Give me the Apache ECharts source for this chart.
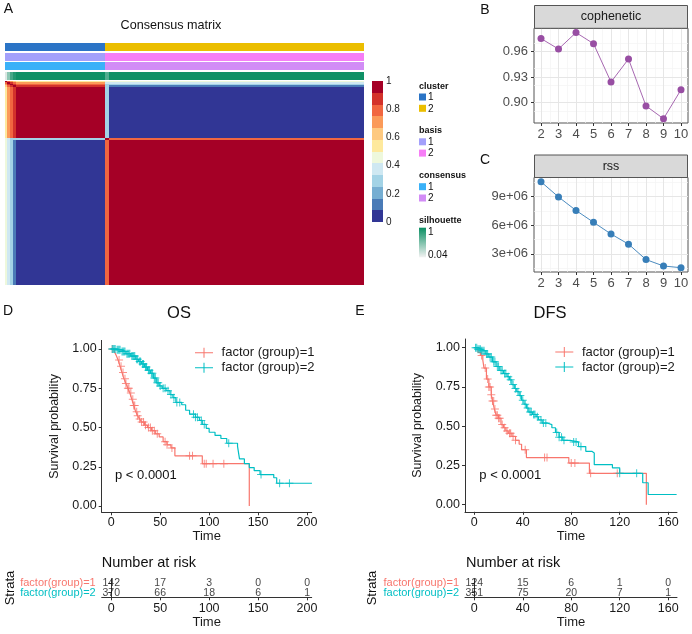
<!DOCTYPE html>
<html><head><meta charset="utf-8">
<script src="https://cdn.jsdelivr.net/npm/echarts@6/dist/echarts.min.js"></script>
<style>html,body{margin:0;padding:0;background:#fff}#c{width:692px;height:634px}</style>
</head><body><div id="c"></div>
<script>
// ---------------- DATA ----------------
// Panel A: consensus matrix, samples ordered by group
const groupNames = ['G1','G2','G3','G4','core1','edge2','core2'];
const groupSizes = [3,4,4,4,127,7,363];
const groupCluster = [1,1,1,1,1,2,2];
const groupBasis = [1,1,1,1,1,2,2];
const groupConsensus = [1,1,1,1,1,2,2];
const groupSilhouette = [0.12,0.45,0.75,0.9,0.98,0.7,0.98];
const consensusBlocks = [
  [1.00,0.80,0.70,0.65,0.55,0.45,0.45],
  [0.80,1.00,0.85,0.80,0.70,0.36,0.35],
  [0.70,0.85,1.00,0.90,0.82,0.28,0.25],
  [0.65,0.80,0.90,1.00,0.88,0.28,0.12],
  [0.55,0.70,0.82,0.88,1.00,0.28,0.00],
  [0.45,0.36,0.28,0.28,0.28,1.00,0.75],
  [0.45,0.35,0.25,0.12,0.00,0.75,1.00]
];
const trackNames = ['cluster','basis','consensus','silhouette'];
const colorbarTicks = [0,0.2,0.4,0.6,0.8,1];
// Panel B / C
const rankK = [2,3,4,5,6,7,8,9,10];
const copheneticValues = [0.975,0.9627,0.982,0.969,0.924,0.951,0.896,0.881,0.915];
const rssValues = [10.55e6,8.96e6,7.55e6,6.31e6,5.08e6,4.02e6,2.40e6,1.73e6,1.55e6];
const copheneticTicks = [0.90,0.93,0.96];
const rssTicks = [3e6,6e6,9e6];
// Panel D: OS
const osTime1 = [0,3,5,7,9,11,13,15,17,19,21,23,25,27,29,31,34,37,41,45,49,53,57,61,65,93,141];
const osSurv1 = [1,0.985,0.96,0.93,0.89,0.85,0.81,0.78,0.75,0.72,0.68,0.64,0.60,0.575,0.555,0.535,0.515,0.50,0.48,0.46,0.44,0.41,0.39,0.37,0.32,0.27,0.0];
const osCensor1 = [1,8,10,12,14,15,17,18,20,22,23,24,26,27,29,31,33,35,38,40,42,44,47,55,57,62,80,83,95,97,104,115];
const osTime2 = [0,5,10,15,20,25,28,31,34,37,40,43,46,49,52,56,60,63,66,72,76,80,86,90,93,97,100,106,112,118,129,131,136,141,146,152,166,169,205];
const osSurv2 = [1,0.995,0.985,0.97,0.955,0.935,0.92,0.905,0.885,0.865,0.845,0.815,0.785,0.765,0.75,0.735,0.71,0.69,0.66,0.645,0.61,0.585,0.565,0.545,0.52,0.495,0.47,0.45,0.43,0.40,0.38,0.30,0.27,0.245,0.225,0.20,0.18,0.145,0.145];
const osCensor2 = [1,2,3,4,6,7,8,9,11,12,13,14,16,17,18,19,21,22,23,24,26,27,29,30,32,33,35,36,38,39,41,42,44,45,47,48,50,53,55,58,61,64,67,70,84,86,88,92,95,120,153,172,182];
const osRiskTimes = [0,50,100,150,200];
const osRisk1 = [142,17,3,0,0];
const osRisk2 = [370,66,18,6,1];
// Panel E: DFS
const dfsTime1 = [0,3,5,7,8,10,12,14,15,16.5,18,20,22,24,26,28,31,34,37,39,43,78,95,142];
const dfsSurv1 = [1,0.97,0.95,0.92,0.87,0.80,0.75,0.70,0.66,0.61,0.57,0.55,0.51,0.49,0.47,0.455,0.435,0.41,0.385,0.35,0.30,0.265,0.20,0.0];
const dfsCensor1 = [6,9,11,12,13,14,15,16,17,18,19,20,21,23,25,27,29,30,32,34,42,58,60,80,83,96,118];
const dfsTime2 = [0,3,6,9,12,15,18,21,24,27,29,31,33,35,37,39,41,43,45,48,51,53,56,60,64,67,70,73,79,86,92,97,99,114,120,139,143.5,167];
const dfsSurv2 = [1,0.99,0.98,0.96,0.94,0.91,0.88,0.855,0.835,0.815,0.795,0.765,0.74,0.72,0.695,0.665,0.64,0.615,0.59,0.575,0.56,0.54,0.52,0.51,0.49,0.46,0.43,0.41,0.40,0.37,0.34,0.33,0.255,0.235,0.20,0.14,0.065,0.065];
const dfsCensor2 = [1,2,3,4,5,6,7,8,10,11,13,14,16,17,19,20,22,23,25,26,28,30,32,34,36,38,40,42,44,46,47,49,50,52,55,57,59,68,70,72,74,82,84,88,120,134];
const dfsRiskTimes = [0,40,80,120,160];
const dfsRisk1 = [124,15,6,1,0];
const dfsRisk2 = [351,75,20,7,1];
const survTicks = [0,0.25,0.5,0.75,1];
const legendNames = ['factor (group)=1','factor (group)=2'];
const strataNames = ['factor(group)=1','factor(group)=2'];

// ---------------- STYLE ----------------
const FONT = '"Liberation Sans", Arial, sans-serif';
const heatPalette = ['#313695','#4a7bb7','#76aed2','#a3d3e6','#cfe8f2','#eef8dc','#fee99d','#fec980','#fb9a59','#f16640','#d3322b','#a50026'];
const clusterColors = {1:'#2b74c6',2:'#ebbe00'};
const basisColors = {1:'#a3a0fb',2:'#f67ef6'};
const consensusColors = {1:'#3ab1f8',2:'#d28cf6'};
const RED = '#f8766d', TEAL = '#00bfc4';
const PURPLE = '#984ea3', BLUE = '#377eb8';

function heatColor(v){ return heatPalette[Math.min(heatPalette.length-1, Math.floor(v*heatPalette.length))]; }
function silColor(v){
  const t = Math.max(0, Math.min(1, (v-0.04)/0.96));
  const a=[240,240,240], b=[10,143,99];
  return 'rgb('+a.map((c,i)=>Math.round(c+(b[i]-c)*t)).join(',')+')';
}
function survAt(times, surv, t){ let s = surv[0]; for (let i=0;i<times.length;i++){ if (times[i] <= t) s = surv[i]; } return s; }

// ---------------- BUILD ----------------
const offsets = [0];
groupSizes.forEach(s => offsets.push(offsets[offsets.length-1] + s));
const nSamples = offsets[offsets.length-1];
const heatData = [];
for (let i=0;i<groupSizes.length;i++) for (let j=0;j<groupSizes.length;j++)
  heatData.push([offsets[j], offsets[j+1], offsets[i], offsets[i+1], consensusBlocks[i][j]]);
const trackData = [];
for (let g=0; g<groupSizes.length; g++){
  trackData.push([offsets[g], offsets[g+1], 0, groupCluster[g]]);
  trackData.push([offsets[g], offsets[g+1], 1, groupBasis[g]]);
  trackData.push([offsets[g], offsets[g+1], 2, groupConsensus[g]]);
  trackData.push([offsets[g], offsets[g+1], 3, groupSilhouette[g]]);
}
const nb = heatPalette.length;
const colorbarData = heatPalette.map((c,i) => [0, 1, i/nb, (i+1)/nb, (i+0.5)/nb]);

function rectRender(colorFn){
  return function(params, api){
    const a = api.coord([api.value(0), api.value(2)]);
    const b = api.coord([api.value(1), api.value(3)]);
    const x0 = Math.round(Math.min(a[0],b[0])), x1 = Math.round(Math.max(a[0],b[0]));
    const y0 = Math.round(Math.min(a[1],b[1])), y1 = Math.round(Math.max(a[1],b[1]));
    return {type:'rect', shape:{x:x0,y:y0,width:x1-x0,height:y1-y0}, style:{fill: colorFn(api.value(4))}};
  };
}
function trackRender(params, api){
  const tr = api.value(2);
  const a = api.coord([api.value(0), tr]);
  const b = api.coord([api.value(1), tr]);
  const h = api.size([0,1])[1];
  const x0 = Math.round(a[0]), x1 = Math.round(b[0]);
  const y0 = Math.round(a[1]-h/2+0.5);
  const v = api.value(3);
  const fill = tr===0 ? clusterColors[v] : tr===1 ? basisColors[v] : tr===2 ? consensusColors[v] : silColor(v);
  return {type:'rect', shape:{x:x0,y:y0,width:x1-x0,height:Math.round(h-1.5)}, style:{fill}};
}

function mids(arr){ const out=[]; for(let i=0;i<arr.length-1;i++) out.push((arr[i]+arr[i+1])/2); return out; }
function gridMarkLines(xMajor, yMajor, xMinor, yMinor){
  const d = [];
  xMinor.forEach(v=>d.push({xAxis:v, lineStyle:{color:'#f3f3f3', width:0.7}}));
  yMinor.forEach(v=>d.push({yAxis:v, lineStyle:{color:'#f3f3f3', width:0.7}}));
  xMajor.forEach(v=>d.push({xAxis:v, lineStyle:{color:'#e6e6e6', width:1}}));
  yMajor.forEach(v=>d.push({yAxis:v, lineStyle:{color:'#e6e6e6', width:1}}));
  return {silent:true, z:1, symbol:['none','none'], label:{show:false}, emphasis:{disabled:true}, animation:false, lineStyle:{type:'solid'}, data:d};
}

const plusIcon = 'path://M0,3.5H8V4.5H0Z M3.5,0H4.5V8H3.5Z';
const legendIcon = 'path://M0,4.5H18V5.5H0Z M8.5,0H9.5V10H8.5Z';

// axes
const xAxes = [], yAxes = [];
const hid = (gi,min,max,extra) => Object.assign({type:'value', gridIndex:gi, min, max, show:false}, extra||{});
// 0 heatmap
xAxes.push(hid(0,0,nSamples)); yAxes.push(hid(0,0,nSamples,{inverse:true}));
// 1 tracks
xAxes.push(hid(1,0,nSamples)); yAxes.push({type:'category', gridIndex:1, data:trackNames, inverse:true, show:false});
// 2 colorbar
xAxes.push(hid(2,0,1));
yAxes.push({type:'value', gridIndex:2, min:0, max:1, interval:0.2, position:'right', axisLine:{show:false}, axisTick:{show:false}, splitLine:{show:false},
  axisLabel:{customValues:colorbarTicks, margin:3, fontSize:10, color:'#222', fontFamily:FONT}});
// 3 B, 4 C
function facetX(gi, margin){
  return {type:'value', gridIndex:gi, min:1.6, max:10.4, axisLine:{show:false, onZero:false}, splitLine:{show:false},
    axisTick:{show:true, customValues:rankK, length:3, lineStyle:{color:'#333'}},
    axisLabel:{customValues:rankK, margin:margin, fontSize:13, color:'#4d4d4d', fontFamily:FONT}};
}
xAxes.push(facetX(3,4.5)); xAxes.push(facetX(4,5));
yAxes.push({type:'value', gridIndex:3, min:0.876, max:0.987, axisLine:{show:false, onZero:false}, splitLine:{show:false},
  axisTick:{show:true, customValues:copheneticTicks, length:3, lineStyle:{color:'#333'}},
  axisLabel:{customValues:copheneticTicks, formatter:v=>v.toFixed(2), margin:6, fontSize:13, color:'#4d4d4d', fontFamily:FONT}});
yAxes.push({type:'value', gridIndex:4, min:1.1e6, max:11.0e6, axisLine:{show:false, onZero:false}, splitLine:{show:false},
  axisTick:{show:true, customValues:rssTicks, length:3, lineStyle:{color:'#333'}},
  axisLabel:{customValues:rssTicks, formatter:v=>Math.round(v/1e6)+'e+06', margin:6, fontSize:13, color:'#4d4d4d', fontFamily:FONT}});
// 5 D KM, 6 E KM
function kmX(gi,min,max,ticks){
  return {type:'value', gridIndex:gi, min, max, splitLine:{show:false},
    axisLine:{show:true, onZero:false, lineStyle:{color:'#333', width:1}},
    axisTick:{show:true, customValues:ticks, length:3, lineStyle:{color:'#333'}},
    axisLabel:{customValues:ticks, margin:4, fontSize:12.5, color:'#1a1a1a', fontFamily:FONT},
    name:'Time', nameLocation:'middle', nameGap:17, nameTextStyle:{fontSize:13, color:'#1a1a1a', fontFamily:FONT}};
}
function kmY(gi,min,max){
  return {type:'value', gridIndex:gi, min, max, splitLine:{show:false},
    axisLine:{show:true, onZero:false, lineStyle:{color:'#333', width:1}},
    axisTick:{show:true, customValues:survTicks, length:3, lineStyle:{color:'#333'}},
    axisLabel:{customValues:survTicks, formatter:v=>v.toFixed(2), margin:5, fontSize:12.5, color:'#1a1a1a', fontFamily:FONT},
    name:'Survival probability', nameLocation:'middle', nameRotate:90, nameGap:41, nameTextStyle:{fontSize:12.5, color:'#1a1a1a', fontFamily:FONT}};
}
xAxes.push(kmX(5,-9.75,204.75,osRiskTimes)); yAxes.push(kmY(5,-0.04,1.055));
xAxes.push(kmX(6,-7.7,167.3,dfsRiskTimes)); yAxes.push(kmY(6,-0.045,1.055));
// 7 D risk, 8 E risk
function riskX(gi,min,max,ticks){
  const a = kmX(gi,min,max,ticks); a.axisLabel.margin = 5; a.nameGap = 18; a.nameTextStyle.fontSize = 13; return a;
}
function riskY(gi){
  return {type:'category', gridIndex:gi, data:strataNames, inverse:true,
    axisLine:{show:true, lineStyle:{color:'#333'}}, axisTick:{show:true, alignWithLabel:true, length:3, lineStyle:{color:'#333'}},
    axisLabel:{interval:0, hideOverlap:false, margin:6, fontSize:11, fontFamily:FONT, color:(v)=> v===strataNames[0] ? RED : TEAL}, splitLine:{show:false}};
}
xAxes.push(riskX(7,-9.75,204.75,osRiskTimes)); yAxes.push(riskY(7));
xAxes.push(riskX(8,-7.7,167.3,dfsRiskTimes)); yAxes.push(riskY(8));

const grids = [
  {left:5, top:81, width:359, height:204},
  {left:5, top:42.5, width:359, height:38},
  {left:372, top:81, width:11, height:141},
  {left:534, top:28.3, width:154, height:94.7, show:true, backgroundColor:'#fff', borderColor:'#555', borderWidth:1},
  {left:534, top:177.5, width:154, height:94.5, show:true, backgroundColor:'#fff', borderColor:'#555', borderWidth:1},
  {left:101.7, top:340.4, width:210, height:171.9},
  {left:465, top:339, width:212, height:172.8},
  {left:101.7, top:578.8, width:210, height:18.5},
  {left:465, top:578.8, width:212, height:18.5}
];

function kmSeries(gi, name, times, surv, censor, color){
  return [
    {type:'line', name, xAxisIndex:gi, yAxisIndex:gi, step:'end', showSymbol:false, symbol:'none', z:2,
     data: times.map((t,i)=>[t, surv[i]]), itemStyle:{color}, lineStyle:{color, width:1.2}, silent:true},
    {type:'scatter', name, xAxisIndex:gi, yAxisIndex:gi, symbol:plusIcon, symbolSize:8, z:3, silent:true,
     data: censor.map(t=>[t, survAt(times, surv, t)]), itemStyle:{color}}
  ];
}
function riskSeries(gi, times, r1, r2){
  const d = [];
  times.forEach((t,i)=>{ d.push([t, 0, r1[i]]); d.push([t, 1, r2[i]]); });
  return {type:'scatter', xAxisIndex:gi, yAxisIndex:gi, symbolSize:1, itemStyle:{color:'rgba(0,0,0,0)'}, silent:true,
    data:d, label:{show:true, position:'inside', formatter:p=>String(p.data[2]), fontSize:10.5, color:'#111', fontFamily:FONT}};
}

const series = [
  {type:'custom', xAxisIndex:0, yAxisIndex:0, renderItem:rectRender(heatColor), data:heatData, encode:{x:[0,1], y:[2,3]}, silent:true},
  {type:'custom', xAxisIndex:1, yAxisIndex:1, renderItem:trackRender, data:trackData, encode:{x:[0,1], y:2}, silent:true},
  {type:'custom', xAxisIndex:2, yAxisIndex:2, renderItem:rectRender(heatColor), data:colorbarData, encode:{x:[0,1], y:[2,3]}, silent:true},
  {type:'line', xAxisIndex:3, yAxisIndex:3, z:2, data:rankK.map((k,i)=>[k, copheneticValues[i]]), symbol:'circle', symbolSize:7,
   itemStyle:{color:PURPLE}, lineStyle:{color:PURPLE, width:1, opacity:0.85}, silent:true,
   markLine: gridMarkLines(rankK, copheneticTicks, mids(rankK), [0.885,0.915,0.945,0.975])},
  {type:'line', xAxisIndex:4, yAxisIndex:4, z:2, data:rankK.map((k,i)=>[k, rssValues[i]]), symbol:'circle', symbolSize:7,
   itemStyle:{color:BLUE}, lineStyle:{color:BLUE, width:1, opacity:0.9}, silent:true,
   markLine: gridMarkLines(rankK, rssTicks, mids(rankK), [1.5e6,4.5e6,7.5e6,10.5e6])},
  ...kmSeries(5, legendNames[0], osTime1, osSurv1, osCensor1, RED),
  ...kmSeries(5, legendNames[1], osTime2, osSurv2, osCensor2, TEAL),
  ...kmSeries(6, legendNames[0], dfsTime1, dfsSurv1, dfsCensor1, RED),
  ...kmSeries(6, legendNames[1], dfsTime2, dfsSurv2, dfsCensor2, TEAL),
  riskSeries(7, osRiskTimes, osRisk1, osRisk2),
  riskSeries(8, dfsRiskTimes, dfsRisk1, dfsRisk2)
];

function T(text, x, y, size, opt){
  opt = opt || {};
  return {type:'text', x, y, rotation: opt.rot || 0, silent:true, z:10,
    style:{text, align: opt.align || 'center', verticalAlign:'middle', fontSize:size, fontFamily:FONT,
      fontWeight: opt.bold ? 'bold' : 'normal', fill: opt.fill || '#111'}};
}
function R(x,y,w,h,fill,stroke){ return {type:'rect', silent:true, z:5, shape:{x,y,width:w,height:h}, style:{fill, stroke: stroke||null, lineWidth: stroke?1:0}}; }

const graphic = [
  T('A', 8.5, 9.5, 14), T('B', 485, 10, 14), T('C', 485, 160, 14), T('D', 8, 311, 14), T('E', 360, 311, 14),
  T('Consensus matrix', 171, 26, 12.6),
  T('OS', 179, 313, 16.5), T('DFS', 550, 313, 16.5),
  R(534.5, 5.5, 153, 22.8, '#d9d9d9', '#555'), T('cophenetic', 611, 17, 12.5, {fill:'#1a1a1a'}),
  R(534.5, 155, 153, 22.5, '#d9d9d9', '#555'), T('rss', 611, 166.5, 12.5, {fill:'#1a1a1a'}),
  // annotation legend
  T('cluster', 419, 86.5, 9, {align:'left', bold:true}),
  R(419, 93.5, 7, 7, clusterColors[1]), T('1', 428, 97.5, 10, {align:'left'}),
  R(419, 104.8, 7, 7, clusterColors[2]), T('2', 428, 108.8, 10, {align:'left'}),
  T('basis', 419, 131, 9, {align:'left', bold:true}),
  R(419, 138.3, 7, 7, basisColors[1]), T('1', 428, 142.3, 10, {align:'left'}),
  R(419, 149.6, 7, 7, basisColors[2]), T('2', 428, 153.6, 10, {align:'left'}),
  T('consensus', 419, 176, 9, {align:'left', bold:true}),
  R(419, 183.2, 7, 7, consensusColors[1]), T('1', 428, 187.2, 10, {align:'left'}),
  R(419, 194.5, 7, 7, consensusColors[2]), T('2', 428, 198.5, 10, {align:'left'}),
  T('silhouette', 419, 220.7, 9, {align:'left', bold:true}),
  {type:'rect', silent:true, z:5, shape:{x:419, y:227.7, width:7, height:29.6},
   style:{fill: new echarts.graphic.LinearGradient(0,0,0,1,[{offset:0,color:'#0a8f63'},{offset:1,color:'#f2f2f2'}])}},
  T('1', 428, 232.3, 10, {align:'left'}), T('0.04', 428, 255.3, 10, {align:'left'}),
  // p-values
  T('p < 0.0001', 115, 475, 13, {align:'left'}), T('p < 0.0001', 479.3, 475, 13, {align:'left'}),
  // risk table titles
  T('Number at risk', 101.7, 563.3, 14.5, {align:'left'}), T('Number at risk', 466, 563.3, 14.5, {align:'left'}),
  T('Strata', 10, 588, 13, {rot: Math.PI/2}), T('Strata', 372.7, 588, 13, {rot: Math.PI/2})
];

function kmLegend(left, top){
  return {left, top, orient:'vertical', padding:0, itemWidth:18, itemHeight:10, itemGap:0, selectedMode:false,
    icon: legendIcon, formatter: n => ' ' + n,
    textStyle:{fontSize:13, color:'#1a1a1a', fontFamily:FONT, lineHeight:15},
    data: legendNames};
}

const option = {
  animation:false,
  textStyle:{fontFamily:FONT},
  grid: grids, xAxis: xAxes, yAxis: yAxes, series,
  legend: [kmLegend(195, 345.2), kmLegend(555.3, 344.5)],
  graphic
};
const chart = echarts.init(document.getElementById('c'), null, {renderer:'canvas', width:692, height:634});
chart.setOption(option);
</script>
</body></html>
